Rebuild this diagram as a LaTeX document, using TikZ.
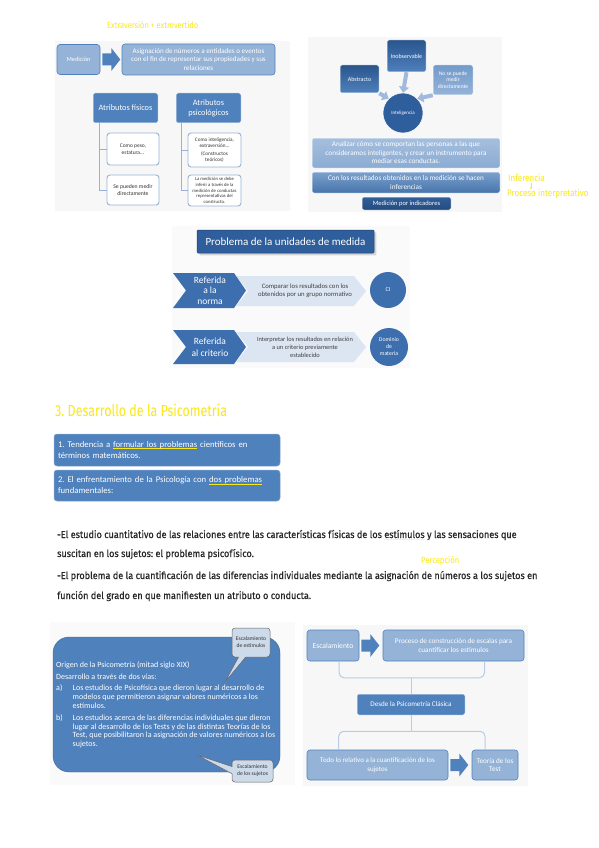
\documentclass[tikz,border=0pt]{standalone}
\usepackage{fontspec}
\setmainfont{Carlito}
\newfontfamily\hand[FakeStretch=0.91,FakeBold=0.6]{Fira Sans}
\newfontfamily\handn[FakeStretch=0.85]{Fira Sans}
\newfontfamily\handt[FakeStretch=0.78]{Fira Sans}
\usetikzlibrary{shapes.callouts,arrows.meta,calc,shadows}
\frenchspacing
\definecolor{dkb}{RGB}{79,129,189}
\definecolor{ltb}{RGB}{149,179,215}
\definecolor{yel}{RGB}{250,232,20}
\definecolor{pale}{RGB}{220,230,242}
\definecolor{deep}{RGB}{47,94,156}
\definecolor{chevc}{RGB}{61,110,174}
\definecolor{arrc}{RGB}{160,185,220}
\definecolor{brkc}{RGB}{184,204,228}
\definecolor{callf}{RGB}{205,218,234}
\newcommand\fs[2]{\fontsize{#1}{#2}\selectfont}
\newcommand\yul[2][yel]{\setbox0\hbox{#2}\rlap{\textcolor{#1}{\rule[-1.8pt]{\wd0}{0.8pt}}}#2}
\tikzset{
  lbox/.style={draw=dkb, line width=0.6pt, fill=ltb, rounded corners=3pt, text=white, align=center, inner sep=1pt},
  dbox/.style={draw=white, line width=0.5pt, fill=dkb, rounded corners=2pt, text=white, align=center, inner sep=1pt},
  wbox/.style={draw=ltb, line width=0.9pt, fill=white, rounded corners=3pt, text=black!80, align=center, inner sep=1pt},
  tbox/.style={draw=white, line width=0.5pt, rounded corners=2pt, text=white, align=center, inner sep=1pt},
  conn/.style={draw=ltb, line width=1pt},
  thickarr/.style={draw=arrc, line width=4pt, -{Triangle[length=6pt,width=10pt]}},
  brk/.style={draw=brkc, line width=1pt, rounded corners=5pt},
  para/.style={anchor=base west, font=\hand\fs{10}{12}, text=black!85, inner sep=0pt},
  hnote/.style={text=yel, inner sep=0pt},
  sbox/.style={fill=dkb, draw=dkb!70!white, line width=0.5pt, rounded corners=3pt, text=white, align=left, font=\fs{8.7}{11}, text width=218pt, inner sep=4pt},
  call/.style={rectangle callout, fill=callf, draw=black!60, line width=0.5pt, rounded corners=3pt, text=black!80, align=center, font=\fs{5.6}{7}, inner sep=1pt},
}
\newcommand\barrow[2]{\fill[#2] ($(#1)+(2,-6)$) -- ++(9,0) -- ++(0,-5.5) -- ++(9,11.5) -- ++(-9,11.5) -- ++(0,-5.5) -- ++(-9,0) -- cycle;}
\begin{document}
\begin{tikzpicture}[x=1pt,y=-1pt]
\useasboundingbox[fill=white] (0,0) rectangle (599,848);
% panels
\fill[black!3] (55,41) rectangle (290,211);
\fill[black!3] (308,37) rectangle (502,212);
\fill[black!2] (172,226) rectangle (410,368);
\fill[black!2] (50,622) rectangle (295,785);
\fill[black!3] (303,625) rectangle (528,786);

% handwritten notes
\node[hnote, font=\handn\fs{8.8}{10}, anchor=west] (extra) at (107,25) {Extraversión + extrovertido};

% ---------- top-left
\node[lbox, minimum width=43pt, minimum height=30pt, font=\fs{6.2}{7.5}] (med) at (78.5,59.5) {Medición};
\node[lbox, minimum width=153pt, minimum height=31pt, font=\fs{7.1}{8.5}] (asig) at (198.5,59.5) {Asignación de números a entidades o eventos\\con el fin de representar sus propiedades y sus\\relaciones};
\barrow{med.east}{dkb}
\node[dbox, minimum width=65pt, minimum height=30pt, font=\fs{8.3}{10}] (fis) at (125.5,108) {Atributos físicos};
\node[dbox, minimum width=65pt, minimum height=30pt, font=\fs{8.3}{10}] (psi) at (208.5,108) {Atributos\\psicológicos};
\node[wbox, minimum width=52pt, minimum height=32pt, font=\fs{5.5}{7}] (fis1) at (133,149) {Como peso,\\estatura...};
\node[wbox, minimum width=52pt, minimum height=30pt, font=\fs{5.7}{7.2}] (fis2) at (133,190) {Se pueden medir\\directamente};
\node[wbox, minimum width=53pt, minimum height=34pt, font=\fs{5.2}{6.4}] (psi1) at (214.5,150) {Como inteligencia,\\extraversión...\\[1pt](Constructos\\teóricos)};
\node[wbox, minimum width=53pt, minimum height=31pt, font=\fs{4.7}{5.6}] (psi2) at (214.5,190.5) {La medición se debe\\inferir a través de la\\medición de conductas\\representativas del\\constructo.};
\draw[conn] ($(fis.south west)+(7,0)$) |- (fis1.west);
\draw[conn] ($(fis.south west)+(7,0)$) |- (fis2.west);
\draw[conn] ($(psi.south west)+(6,0)$) |- (psi1.west);
\draw[conn] ($(psi.south west)+(6,0)$) |- (psi2.west);

% ---------- top-right
\node[tbox, top color=deep!90!black, bottom color=dkb, minimum width=39pt, minimum height=32pt, font=\fs{6}{7.5}] (inob) at (406.5,56) {Inobservable};
\node[tbox, top color=deep!90!black, bottom color=dkb, minimum width=39pt, minimum height=28pt, font=\fs{6}{7.5}] (abst) at (359.5,79) {Abstracto};
\node[tbox, top color=dkb!80!white, bottom color=ltb, minimum width=40pt, minimum height=30pt, font=\fs{5.6}{6.8}] (nose) at (453,80) {No se puede\\medir\\directamente};
\node[circle, fill=deep, draw=white, line width=0.5pt, minimum size=40pt, inner sep=0pt, text=white, font=\fs{5}{6}] (intel) at (403,113) {Inteligencia};
\draw[thickarr] (inob.south) -- (intel.north);
\draw[thickarr] (abst.south east) -- (intel.north west);
\draw[thickarr] (nose.south west) -- (intel.north east);
\node[tbox, top color=ltb!85!white, bottom color=ltb!85!dkb, minimum width=188pt, minimum height=30pt, font=\fs{7.2}{8.5}] (anal) at (406,153) {Analizar cómo se comportan las personas a las que\\consideramos inteligentes, y crear un instrumento para\\mediar esas conductas.};
\node[tbox, top color=dkb!75!white, bottom color=dkb!90!black, minimum width=188pt, minimum height=21pt, font=\fs{7.2}{8.5}] (conres) at (406,182.5) {Con los resultados obtenidos en la medición se hacen\\inferencias};
\node[tbox, top color=deep, bottom color=deep!80!black, minimum width=89pt, minimum height=13pt, font=\fs{6.5}{7.5}] (medind) at (406.5,203.5) {Medición por indicadores};
\node[hnote, font=\handn\fs{9.5}{11}, anchor=west] (infer) at (508,178) {Inferencia};
\node[hnote, font=\handn\fs{9.5}{11}, anchor=west] (procint) at (507,194) {Proceso interpretativo};
\draw[yel, line width=0.5pt, -{Stealth[length=2pt,width=2.5pt]}] (infer.south west) ++(23,1) coordinate (ia) -- (ia |- procint.north);

% ---------- middle
\node[tbox, fill=deep, draw=deep!70!black, rounded corners=1pt, minimum width=177pt, minimum height=23pt, font=\fs{11}{13}, drop shadow={opacity=0.3}] (prob) at (285.5,241.5) {Problema de la unidades de medida};
\fill[pale] (236,276) -- (354,276) -- (366,291) -- (354,306) -- (236,306) -- (248,291) -- cycle;
\fill[chevc] (173,273) -- (234,273) -- (246,290.5) -- (234,308) -- (173,308) -- (186,290.5) -- cycle;
\node[text=white, align=center, font=\fs{9.5}{10.5}] (rn) at (210,290.5) {Referida\\a la\\norma};
\node[text=black!75, align=center, font=\fs{6.7}{8}] (cmp) at (305,291) {Comparar los resultados con los\\obtenidos por un grupo normativo};
\node[circle, fill=chevc, minimum size=36pt, inner sep=0pt, text=white, font=\fs{6}{7}] (ci) at (388,290) {CI};
\fill[pale] (236,332) -- (354,332) -- (366,347) -- (354,362) -- (236,362) -- (248,347) -- cycle;
\fill[chevc] (173,330) -- (234,330) -- (246,347) -- (234,364) -- (173,364) -- (186,347) -- cycle;
\node[text=white, align=center, font=\fs{9.5}{12}] (rc) at (210,347) {Referida\\al criterio};
\node[text=black!75, align=center, font=\fs{6.4}{7.8}] (intp) at (305,347) {Interpretar los resultados en relación\\a un criterio previamente\\establecido};
\node[circle, fill=chevc, minimum size=38pt, inner sep=0pt, text=white, align=center, font=\fs{5.8}{7}] (dom) at (389,347) {Dominio\\de\\materia};

% ---------- section 3
\node[hnote, anchor=west, font=\handt\fs{16}{18}] (s3) at (55,410.5) {3. Desarrollo de la Psicometría};
\node[sbox, minimum height=32pt] (b1) at (167,450) {1. Tendencia a \yul{formular los problemas} científicos en\\términos matemáticos.};
\node[sbox, minimum height=31pt] (b2) at (167,485.5) {2. El enfrentamiento de la Psicología con \yul{dos problemas}\\fundamentales:};

\node[para] (p1) at (57,538) {-El estudio cuantitativo de las relaciones entre las características físicas de los \yul[yel!40]{estímulos} y las sensaciones que};
\node[para] (p2) at (57,557) {suscitan en los sujetos: el problema psicofísico.};
\node[para] (p3) at (57,579) {-El problema de la cuantificación de las diferencias individuales mediante la asignación de números a los sujetos en};
\node[para] (p4) at (57,599) {función del grado en que manifiesten un atributo o conducta.};
\node[hnote, anchor=base west, font=\handn\fs{9}{10}] (perc) at (421,563) {Percepción};

% ---------- bottom-left
\node[fill=dkb, draw=dkb!80!black, line width=0.4pt, rounded corners=16pt, minimum width=227pt, minimum height=135pt] (orig) at (166.5,704.5) {};
\node[anchor=north west, text=white, inner sep=0pt, font=\fs{8}{8.8}] (origt) at (56,661) {\def\arraystretch{1}\begin{tabular}{@{}p{16.5pt}@{}l@{}}
\multicolumn{2}{@{}l}{Origen de la Psicometría (mitad siglo XIX)}\\[3.5pt]
\multicolumn{2}{@{}l}{Desarrollo a través de dos vías:}\\[2.5pt]
a) & Los estudios de Psicofísica que dieron lugar al desarrollo de\\
 & modelos que permitieron asignar valores numéricos a los\\
 & estímulos.\\[3pt]
b) & Los estudios acerca de las diferencias individuales que dieron\\
 & lugar al desarrollo de los Tests y de las distintas Teorías de los\\
 & Test, que posibilitaron la asignación de valores numéricos a los\\
 & sujetos.
\end{tabular}};
\node[call, minimum width=38pt, minimum height=29pt, callout absolute pointer={(225,682)}] (ce) at (251,642.5) {Escalamiento\\de estímulos};
\node[call, minimum width=41pt, minimum height=22pt, callout absolute pointer={(197,755)}] (cs) at (252.5,771) {Escalamiento\\de los sujetos};

% ---------- bottom-right
\node[lbox, minimum width=52pt, minimum height=31pt, font=\fs{7.6}{8.5}] (esc) at (333,645.5) {Escalamiento};
\node[lbox, minimum width=141pt, minimum height=31pt, font=\fs{7.2}{8.8}] (proc) at (453.5,645.5) {Proceso de construcción de escalas para\\cuantificar los estímulos};
\barrow{esc.east}{dkb}
\node[dbox, minimum width=108pt, minimum height=21pt, font=\fs{7.1}{8}] (desde) at (411,704.5) {Desde la Psicometría Clásica};
\node[lbox, minimum width=141pt, minimum height=30pt, font=\fs{7}{8.8}] (todo) at (377.5,765) {Todo lo relativo a la cuantificación de los\\sujetos};
\node[lbox, minimum width=46pt, minimum height=30pt, font=\fs{7.2}{8.8}] (teo) at (495,765) {Teoría de los\\Test};
\barrow{todo.east}{dkb}
\coordinate (jt) at ($(desde.north)+(0,-16)$);
\draw[brk] ($(esc.south)+(6,0)$) |- (jt) -| ($(proc.south)+(31,0)$);
\draw[brk] (jt) -- (desde.north);
\coordinate (jb) at ($(desde.south)+(0,16)$);
\draw[brk] ($(todo.north west)+(32,0)$) |- (jb) -| ($(teo.north)+(-10,0)$);
\draw[brk] (desde.south) -- (jb);
\end{tikzpicture}
\end{document}
